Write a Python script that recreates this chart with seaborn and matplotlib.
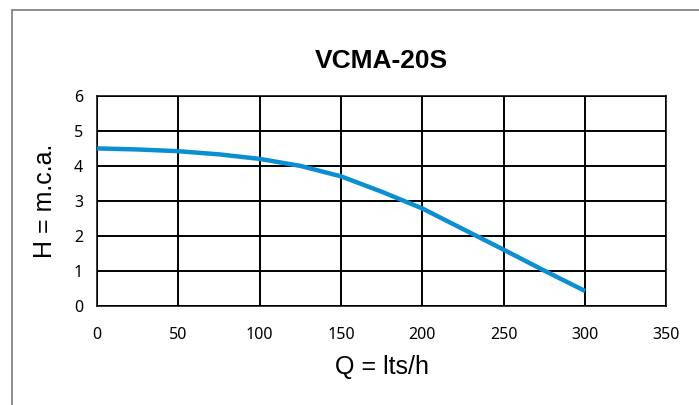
import numpy as np
import pandas as pd
import seaborn as sns
import matplotlib.pyplot as plt
from matplotlib.lines import Line2D

# Pump curve
flow = [0, 25, 50, 75, 100, 125, 150, 175, 200, 225, 250, 275, 300]
head = [4.50, 4.47, 4.42, 4.33, 4.20, 4.00, 3.70, 3.26, 2.78, 2.19, 1.60, 1.00, 0.42]
x_ticks = [0, 50, 100, 150, 200, 250, 300, 350]
y_ticks = [0, 1, 2, 3, 4, 5, 6]
title = 'VCMA-20S'

df = pd.DataFrame({'Q': flow, 'H': head})

sns.set_style('white')
plt.rcParams['font.family'] = ['Liberation Sans', 'DejaVu Sans']
plt.rcParams['text.color'] = 'black'
plt.rcParams['xtick.color'] = 'black'
plt.rcParams['ytick.color'] = 'black'
plt.rcParams['axes.labelcolor'] = 'black'

fig = plt.figure(figsize=(6.99, 4.05), dpi=100)
ax = fig.add_axes([0.1388, 0.2452, 0.8147, 0.5178])

sns.lineplot(data=df, x='Q', y='H', ax=ax, color='#0a8fd2', linewidth=3.2,
             solid_capstyle='butt', solid_joinstyle='round', zorder=3)

ax.set_xlim(0, 350)
ax.set_ylim(0, 6)
ax.set_xticks(x_ticks)
ax.set_yticks(y_ticks)
ax.grid(True, color='black', linewidth=1.4)
for s in ax.spines.values():
    s.set_visible(True)
    s.set_color('black')
    s.set_linewidth(1.1)
ax.tick_params(axis='both', length=0, labelsize=11.5)
ax.tick_params(axis='x', pad=15)
ax.tick_params(axis='y', pad=10)
for lab in ax.get_xticklabels() + ax.get_yticklabels():
    lab.set_fontfamily('Noto Sans')

ax.set_xlabel('Q = lts/h', fontsize=18, labelpad=9)
ax.set_ylabel('H = m.c.a.', fontsize=18, labelpad=12)
ax.set_title(title, fontsize=19, fontweight='bold', color='black', pad=20)

# outer frame (top and left edges only visible)
fig.add_artist(Line2D([11.5 / 699, 1.0], [1 - 10 / 405] * 2, transform=fig.transFigure,
                      color='#7a7a7a', linewidth=1.2))
fig.add_artist(Line2D([11.5 / 699] * 2, [0, 1 - 10 / 405], transform=fig.transFigure,
                      color='#7a7a7a', linewidth=1.2))

plt.savefig('out.png', dpi=100)
